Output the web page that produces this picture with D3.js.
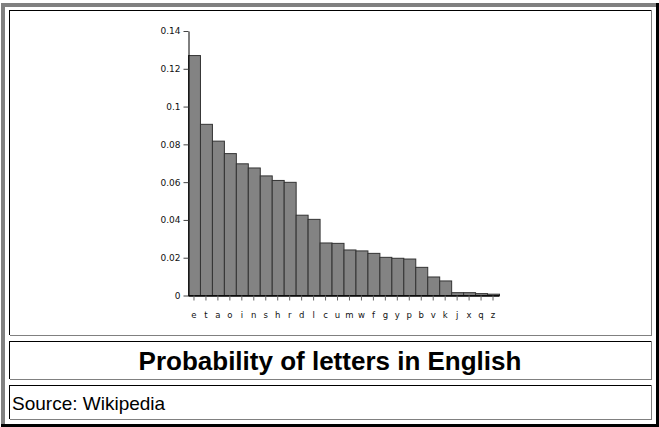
<!DOCTYPE html>
<html>
<head>
<meta charset="utf-8">
<script src="https://cdn.jsdelivr.net/npm/d3@7"></script>
<style>
  body { margin: 0; background: #fff; }
  svg { display: block; }
</style>
</head>
<body>
<div id="app"></div>
<script>
const letters = ["e","t","a","o","i","n","s","h","r","d","l","c","u","m","w","f","g","y","p","b","v","k","j","x","q","z"];
const probabilities = [0.127, 0.0906, 0.0817, 0.0751, 0.0697, 0.0675, 0.0633, 0.0609, 0.0599, 0.0425, 0.0403, 0.0278, 0.0276, 0.0241, 0.0236, 0.0223, 0.0202, 0.0197, 0.0193, 0.0149, 0.0098, 0.0077, 0.0015, 0.0015, 0.0010, 0.0007];
const yTicks = [0, 0.02, 0.04, 0.06, 0.08, 0.1, 0.12, 0.14];
const title = "Probability of letters in English";
const source = "Source: Wikipedia";

const width = 659, height = 427;

const svg = d3.select("#app").append("svg")
  .attr("width", width)
  .attr("height", height);

// outer table frame (outset look)
svg.append("rect").attr("x", 1).attr("y", 3).attr("width", 658).attr("height", 4).attr("fill", "#808080");
svg.append("rect").attr("x", 1).attr("y", 3).attr("width", 4).attr("height", 424).attr("fill", "#808080");
svg.append("rect").attr("x", 656).attr("y", 3).attr("width", 3).attr("height", 424).attr("fill", "#000");
svg.append("rect").attr("x", 1).attr("y", 424).attr("width", 658).attr("height", 3).attr("fill", "#000");

// inset cells
const cells = [
  { top: 10, bottom: 335 },
  { top: 341, bottom: 379 },
  { top: 385, bottom: 419 },
];
cells.forEach((c) => {
  const g = svg.append("g").attr("shape-rendering", "crispEdges");
  g.append("line").attr("x1", 9).attr("x2", 651).attr("y1", c.top + 0.5).attr("y2", c.top + 0.5).attr("stroke", "#000");
  g.append("line").attr("x1", 9.5).attr("x2", 9.5).attr("y1", c.top).attr("y2", c.bottom).attr("stroke", "#000");
  g.append("line").attr("x1", 651.5).attr("x2", 651.5).attr("y1", c.top).attr("y2", c.bottom + 1).attr("stroke", "#808080");
  g.append("line").attr("x1", 10).attr("x2", 652).attr("y1", c.bottom + 0.5).attr("y2", c.bottom + 0.5).attr("stroke", "#808080");
});

// chart
const x = d3.scaleBand().domain(letters).range([188, 499]).padding(0);
const y = d3.scaleLinear().domain([0, 0.14]).range([295.5, 31]);

svg.append("g")
  .selectAll("rect")
  .data(letters)
  .join("rect")
  .attr("x", (d) => x(d) + 0.5)
  .attr("y", (d, i) => y(probabilities[i]))
  .attr("width", x.bandwidth())
  .attr("height", (d, i) => y(0) - y(probabilities[i]))
  .attr("fill", "#838383")
  .attr("stroke", "#333")
  .attr("stroke-width", 1);

const yAxis = svg.append("g")
  .attr("transform", "translate(188.5,0)")
  .call(d3.axisLeft(y).tickValues(yTicks).tickSize(5).tickSizeOuter(0).tickPadding(3)
    .tickFormat((d) => String(+d.toFixed(2))));
yAxis.select(".domain").attr("stroke", "#000");
yAxis.selectAll(".tick line").attr("stroke", "#444");
yAxis.selectAll(".tick text")
  .attr("font-family", "DejaVu Sans, sans-serif")
  .attr("font-size", 9)
  .attr("fill", "#111");

const xAxis = svg.append("g")
  .attr("transform", "translate(0,295.5)")
  .call(d3.axisBottom(x).tickSize(5).tickSizeOuter(0).tickPadding(11));
xAxis.select(".domain").attr("stroke", "#000").attr("stroke-width", 1.5);
xAxis.selectAll(".tick line").attr("stroke", "#666");
xAxis.selectAll(".tick text")
  .attr("font-family", "DejaVu Sans, sans-serif")
  .attr("font-size", 8.5)
  .attr("fill", "#111");

// title and source
svg.append("text")
  .attr("x", 330)
  .attr("y", 370)
  .attr("text-anchor", "middle")
  .attr("font-family", "Liberation Sans, Arial, sans-serif")
  .attr("font-weight", "bold")
  .attr("font-size", 26)
  .attr("fill", "#000")
  .text(title);

svg.append("text")
  .attr("x", 12)
  .attr("y", 410)
  .attr("font-family", "Liberation Sans, Arial, sans-serif")
  .attr("font-size", 19)
  .attr("fill", "#000")
  .text(source);
</script>
</body>
</html>
